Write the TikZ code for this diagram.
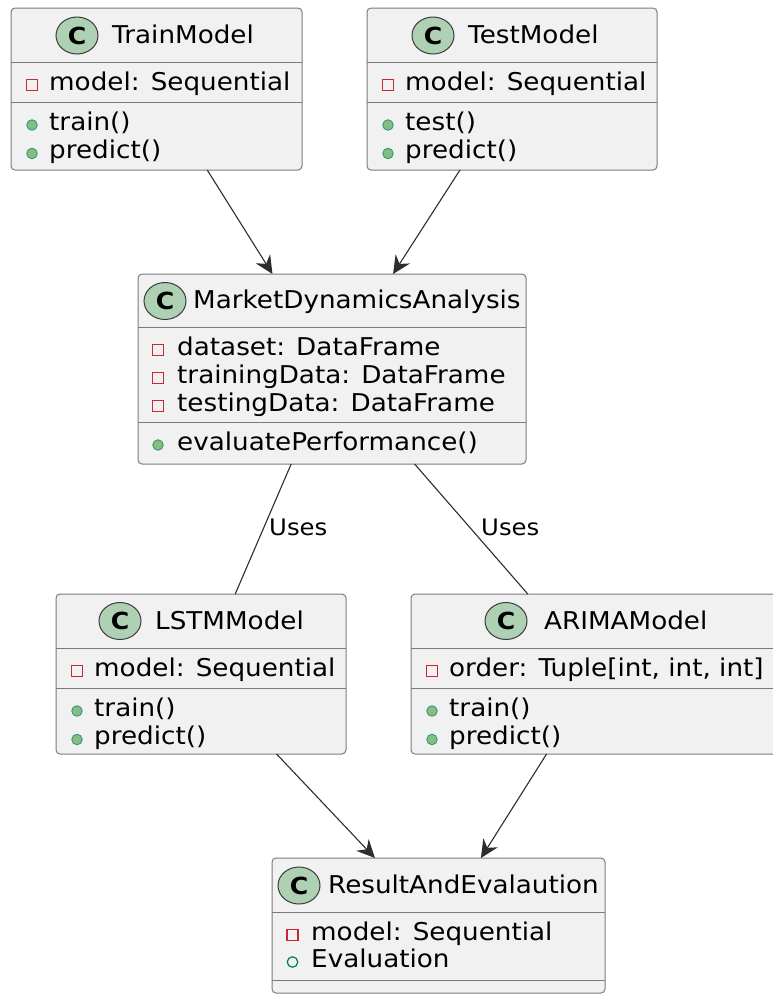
\documentclass[tikz,border=0pt]{standalone}
\usepackage{fontspec}
\setmainfont[FakeStretch=1.07]{DejaVu Sans}
\usetikzlibrary{arrows.meta,fit,shapes.geometric}

\definecolor{umlline}{HTML}{181818}
\definecolor{boxline}{HTML}{7C7C7C}
\definecolor{edgeline}{HTML}{2E2E2E}
\definecolor{boxfill}{HTML}{F1F1F1}
\definecolor{iconfill}{HTML}{ADD1B2}
\definecolor{privred}{HTML}{C82930}
\definecolor{pubgreen}{HTML}{038048}
\definecolor{pubfill}{HTML}{84BE84}

\newcommand\memsize{\fontsize{24.5}{28}\selectfont}
\newcommand\lblsize{\fontsize{22.75}{26}\selectfont}
\newcommand\iconsize{\fontsize{23.5}{23.5}\selectfont\bfseries}

\begin{document}
\begin{tikzpicture}[x=1pt,y=-1pt,
  classbox/.style={draw=boxline, fill=boxfill, line width=1pt,
    rounded corners=4pt, inner sep=0pt, outer sep=0pt},
  sepline/.style={draw=boxline, line width=1pt},
  cicon/.style={ellipse, draw=umlline!85, fill=iconfill, line width=1pt,
    minimum width=42pt, minimum height=37pt, inner sep=0pt, font=\iconsize},
  ctitle/.style={anchor=base west, inner sep=0pt, font=\memsize},
  mem/.style={anchor=base west, inner sep=0pt, font=\memsize},
  priv/.style={rectangle, draw=privred, line width=1.2pt,
    minimum width=11pt, minimum height=10.5pt, inner sep=0pt},
  pub/.style={circle, draw=pubgreen!80, fill=pubfill, line width=0.9pt,
    minimum size=10.5pt, inner sep=0pt},
  pubfield/.style={circle, draw=pubgreen, line width=1.2pt,
    minimum size=10.5pt, inner sep=0pt},
  arr/.style={draw=edgeline, line width=1.1pt,
    -{Stealth[length=18pt, width=17pt, inset=6pt]}},
  assoc/.style={draw=edgeline, line width=1.1pt},
  lbl/.style={anchor=base west, inner sep=0pt, font=\lblsize}
]
\fill[white] (0,0) rectangle (773,994);
\useasboundingbox (0,0) rectangle (773,994);

% ---------- TrainModel ----------
\node[classbox, fit={(11,8) (302,170)}] (train) {};
\draw[sepline] (11,62) -- (302,62);
\draw[sepline] (11,102) -- (302,102);
\node[cicon] (train-c) at (77,35.5) {C};
\node[ctitle] (train-t) at (112,43) {TrainModel};
\node[priv] (train-p1) at (32,85) {};
\node[mem] (train-a1) at (49,90) {model: Sequential};
\node[pub] (train-p2) at (32,125) {};
\node[mem] (train-m1) at (49,130) {train()};
\node[pub] (train-p3) at (32,153.5) {};
\node[mem] (train-m2) at (49,158.5) {predict()};

% ---------- TestModel ----------
\node[classbox, fit={(367,8) (657,170)}] (test) {};
\draw[sepline] (367,62) -- (657,62);
\draw[sepline] (367,102) -- (657,102);
\node[cicon] (test-c) at (433,35.5) {C};
\node[ctitle] (test-t) at (468,43) {TestModel};
\node[priv] (test-p1) at (388,85) {};
\node[mem] (test-a1) at (405,90) {model: Sequential};
\node[pub] (test-p2) at (388,125) {};
\node[mem] (test-m1) at (405,130) {test()};
\node[pub] (test-p3) at (388,153.5) {};
\node[mem] (test-m2) at (405,158.5) {predict()};

% ---------- MarketDynamicsAnalysis ----------
\node[classbox, fit={(138,274) (526,464)}] (mda) {};
\draw[sepline] (138,327) -- (526,327);
\draw[sepline] (138,422) -- (526,422);
\node[cicon] (mda-c) at (165,301) {C};
\node[ctitle] (mda-t) at (193,308) {MarketDynamicsAnalysis};
\node[priv] (mda-p1) at (158,350) {};
\node[mem] (mda-a1) at (177,355) {dataset: DataFrame};
\node[priv] (mda-p2) at (158,378) {};
\node[mem] (mda-a2) at (177,383) {trainingData: DataFrame};
\node[priv] (mda-p3) at (158,406) {};
\node[mem] (mda-a3) at (177,411) {testingData: DataFrame};
\node[pub] (mda-p4) at (158,445) {};
\node[mem] (mda-m1) at (177,450) {evaluatePerformance()};

% ---------- LSTMModel ----------
\node[classbox, fit={(56,594) (346,754)}] (lstm) {};
\draw[sepline] (56,648) -- (346,648);
\draw[sepline] (56,688) -- (346,688);
\node[cicon] (lstm-c) at (120,621) {C};
\node[ctitle] (lstm-t) at (155,629) {LSTMModel};
\node[priv] (lstm-p1) at (77,671) {};
\node[mem] (lstm-a1) at (94,676) {model: Sequential};
\node[pub] (lstm-p2) at (77,711) {};
\node[mem] (lstm-m1) at (94,716) {train()};
\node[pub] (lstm-p3) at (77,739.5) {};
\node[mem] (lstm-m2) at (94,744.5) {predict()};

% ---------- ARIMAModel ----------
\node[classbox, fit={(411,594) (783,754)}] (arima) {};
\draw[sepline] (411,648) -- (783,648);
\draw[sepline] (411,688) -- (783,688);
\node[cicon] (arima-c) at (506,621) {C};
\node[ctitle] (arima-t) at (544,629) {ARIMAModel};
\node[priv] (arima-p1) at (432,671) {};
\node[mem] (arima-a1) at (449,676) {order: Tuple[int, int, int]};
\node[pub] (arima-p2) at (432,711) {};
\node[mem] (arima-m1) at (449,716) {train()};
\node[pub] (arima-p3) at (432,739.5) {};
\node[mem] (arima-m2) at (449,744.5) {predict()};

% ---------- ResultAndEvalaution ----------
\node[classbox, fit={(272,858) (605,993)}] (result) {};
\draw[sepline] (272,912) -- (605,912);
\draw[sepline] (272,980) -- (605,980);
\node[cicon] (result-c) at (299,885.5) {C};
\node[ctitle] (result-t) at (328,893) {ResultAndEvalaution};
\node[priv] (result-p1) at (292.5,935) {};
\node[mem] (result-a1) at (311,940) {model: Sequential};
\node[pubfield] (result-p2) at (292.5,962) {};
\node[mem] (result-a2) at (311,967) {Evaluation};

% ---------- relations ----------
\draw[arr] (train) -- (mda);
\draw[arr] (test) -- (mda);
\draw[assoc] (mda) -- (lstm);
\draw[assoc] (mda) -- (arima);
\node[lbl] (uses-l) at (269,535) {Uses};
\node[lbl] (uses-r) at (481,535) {Uses};
\draw[arr] (lstm) -- (result);
\draw[arr] (arima) -- (result);
\end{tikzpicture}
\end{document}
